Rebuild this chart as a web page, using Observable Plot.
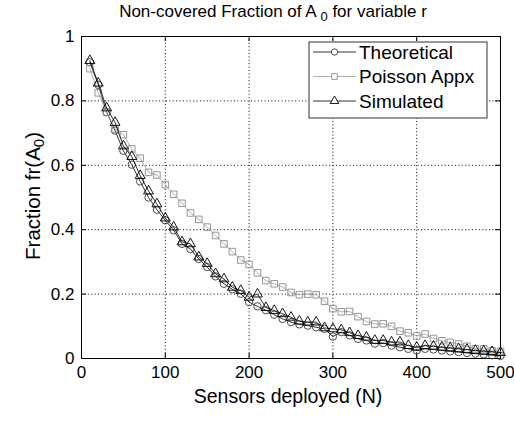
<!DOCTYPE html>
<html><head><meta charset="utf-8">
<script src="https://cdn.jsdelivr.net/npm/d3@7"></script>
<script src="https://cdn.jsdelivr.net/npm/@observablehq/plot@0.6"></script>
<style>body{margin:0;background:#fff} svg{display:block}</style>
</head><body><div id="chart"></div>
<script>
const sensors = [10,20,30,40,50,60,70,80,90,100,110,120,130,140,150,160,170,180,190,200,210,220,230,240,250,260,270,280,290,300,310,320,330,340,350,360,370,380,390,400,410,420,430,440,450,460,470,480,490,500];
const theoretical = [0.920,0.850,0.765,0.708,0.645,0.602,0.550,0.500,0.462,0.429,0.398,0.356,0.340,0.309,0.284,0.255,0.232,0.215,0.201,0.175,0.162,0.150,0.136,0.123,0.113,0.106,0.102,0.097,0.092,0.068,0.082,0.072,0.061,0.056,0.046,0.048,0.040,0.035,0.030,0.025,0.030,0.028,0.025,0.022,0.020,0.017,0.015,0.013,0.010,0.008];
const poisson = [0.900,0.825,0.765,0.713,0.695,0.651,0.622,0.578,0.570,0.540,0.510,0.482,0.452,0.432,0.408,0.382,0.356,0.332,0.306,0.292,0.266,0.242,0.232,0.222,0.205,0.198,0.200,0.198,0.178,0.155,0.145,0.146,0.130,0.115,0.107,0.108,0.100,0.085,0.080,0.070,0.076,0.062,0.055,0.050,0.045,0.038,0.030,0.030,0.024,0.022];
const simulated = [0.925,0.855,0.778,0.733,0.660,0.627,0.568,0.520,0.480,0.436,0.408,0.362,0.356,0.315,0.295,0.263,0.247,0.221,0.211,0.190,0.200,0.158,0.149,0.139,0.128,0.116,0.113,0.113,0.095,0.092,0.089,0.080,0.071,0.066,0.056,0.056,0.051,0.051,0.040,0.035,0.040,0.038,0.035,0.033,0.030,0.028,0.025,0.023,0.021,0.018];
const xTicks = [0,100,200,300,400,500];
const yTicks = [0,0.2,0.4,0.6,0.8,1];
const seriesNames = ["Theoretical","Poisson Appx","Simulated"];
const seriesValues = [theoretical, poisson, simulated];
const seriesSymbols = ["circle","square","triangle"];
const lineColors = ["#000000","#9a9a9a","#000000"];
const markColors = ["#3a3a3a","#8a8a8a","#000000"];

const rows = seriesNames.map((name, k) => sensors.map((n, i) => ({n, v: seriesValues[k][i], s: name})));

const W = 514, H = 421, mL = 81, mR = 14, mT = 36, mB = 63;
const innerW = W - mL - mR, innerH = H - mT - mB;
const font = "'Liberation Sans', Arial, Helvetica, sans-serif";

const marks = [
  Plot.gridX(xTicks.slice(1, -1), {stroke: "#000", strokeOpacity: 1, strokeWidth: 1, strokeDasharray: "1,2.4"}),
  Plot.gridY(yTicks.slice(1, -1), {stroke: "#000", strokeOpacity: 1, strokeWidth: 1, strokeDasharray: "1,2.4"}),
  Plot.tickX(xTicks, {x: d => d, stroke: "#000", insetTop: innerH - 5}),
  Plot.tickX(xTicks, {x: d => d, stroke: "#000", insetBottom: innerH - 5}),
  Plot.tickY(yTicks, {y: d => d, stroke: "#000", insetRight: innerW - 5}),
  Plot.tickY(yTicks, {y: d => d, stroke: "#000", insetLeft: innerW - 5}),
  Plot.frame({stroke: "#000", strokeWidth: 1}),
  Plot.axisX(xTicks, {tickSize: 0, tickPadding: 7, fontSize: 17, label: null}),
  Plot.axisY(yTicks, {tickSize: 0, tickPadding: 7, fontSize: 17, label: null, tickFormat: d => String(d)})
];
rows.forEach((data, k) => {
  marks.push(Plot.line(data, {x: "n", y: "v", stroke: lineColors[k], strokeWidth: 0.8}));
  marks.push(Plot.dot(data, {x: "n", y: "v", symbol: () => seriesSymbols[k], r: 3.7, fill: "none", stroke: markColors[k], strokeWidth: 0.9}));
});

const chart = Plot.plot({
  width: W, height: H, marginLeft: mL, marginRight: mR, marginTop: mT, marginBottom: mB,
  style: {fontFamily: font, fontSize: "17px", background: "#fff", color: "#000", overflow: "visible"},
  x: {domain: [0, 500], label: null},
  y: {domain: [0, 1], label: null},
  symbol: {type: "identity"},
  marks
});
document.getElementById("chart").appendChild(chart);

const svg = d3.select(chart);
// Title
const t = svg.append("text").attr("x", 273).attr("y", 17).attr("text-anchor", "middle")
  .style("font-family", font).style("font-size", "17px").attr("fill", "#000");
t.append("tspan").text("Non-covered Fraction of A ");
t.append("tspan").attr("dy", 4).style("font-size", "13px").text("0");
t.append("tspan").attr("dy", -4).text(" for variable r");
// X label
svg.append("text").attr("x", 288).attr("y", 403).attr("text-anchor", "middle")
  .style("font-family", font).style("font-size", "19.5px").attr("fill", "#000").text("Sensors deployed (N)");
// Y label
const yl = svg.append("text").attr("transform", "translate(40,196) rotate(-90)").attr("text-anchor", "middle")
  .style("font-family", font).style("font-size", "20.5px").attr("fill", "#000");
yl.append("tspan").text("Fraction fr(A");
yl.append("tspan").attr("dy", 4).style("font-size", "15px").text("0");
yl.append("tspan").attr("dy", -4).text(")");
// Legend
const lg = svg.append("g");
lg.append("rect").attr("x", 309).attr("y", 42).attr("width", 178).attr("height", 76)
  .attr("fill", "#fff").attr("stroke", "#333").attr("stroke-width", 1);
const entryY = [52, 76.5, 101];
const sym = {circle: d3.symbolCircle, square: d3.symbolSquare, triangle: d3.symbolTriangle};
seriesNames.forEach((name, k) => {
  const y = entryY[k];
  lg.append("line").attr("x1", 313).attr("x2", 356).attr("y1", y).attr("y2", y)
    .attr("stroke", lineColors[k]).attr("stroke-width", 0.8);
  lg.append("path").attr("d", d3.symbol(sym[seriesSymbols[k]], Math.PI * 3.2 * 3.2)())
    .attr("transform", `translate(334.5,${y})`).attr("fill", "#fff").attr("stroke", markColors[k]).attr("stroke-width", 0.9);
  lg.append("text").attr("x", 359).attr("y", y).attr("dy", "0.36em").attr("text-anchor", "start")
    .style("font-family", font).style("font-size", "19px").attr("fill", "#000").text(name);
});
</script></body></html>
